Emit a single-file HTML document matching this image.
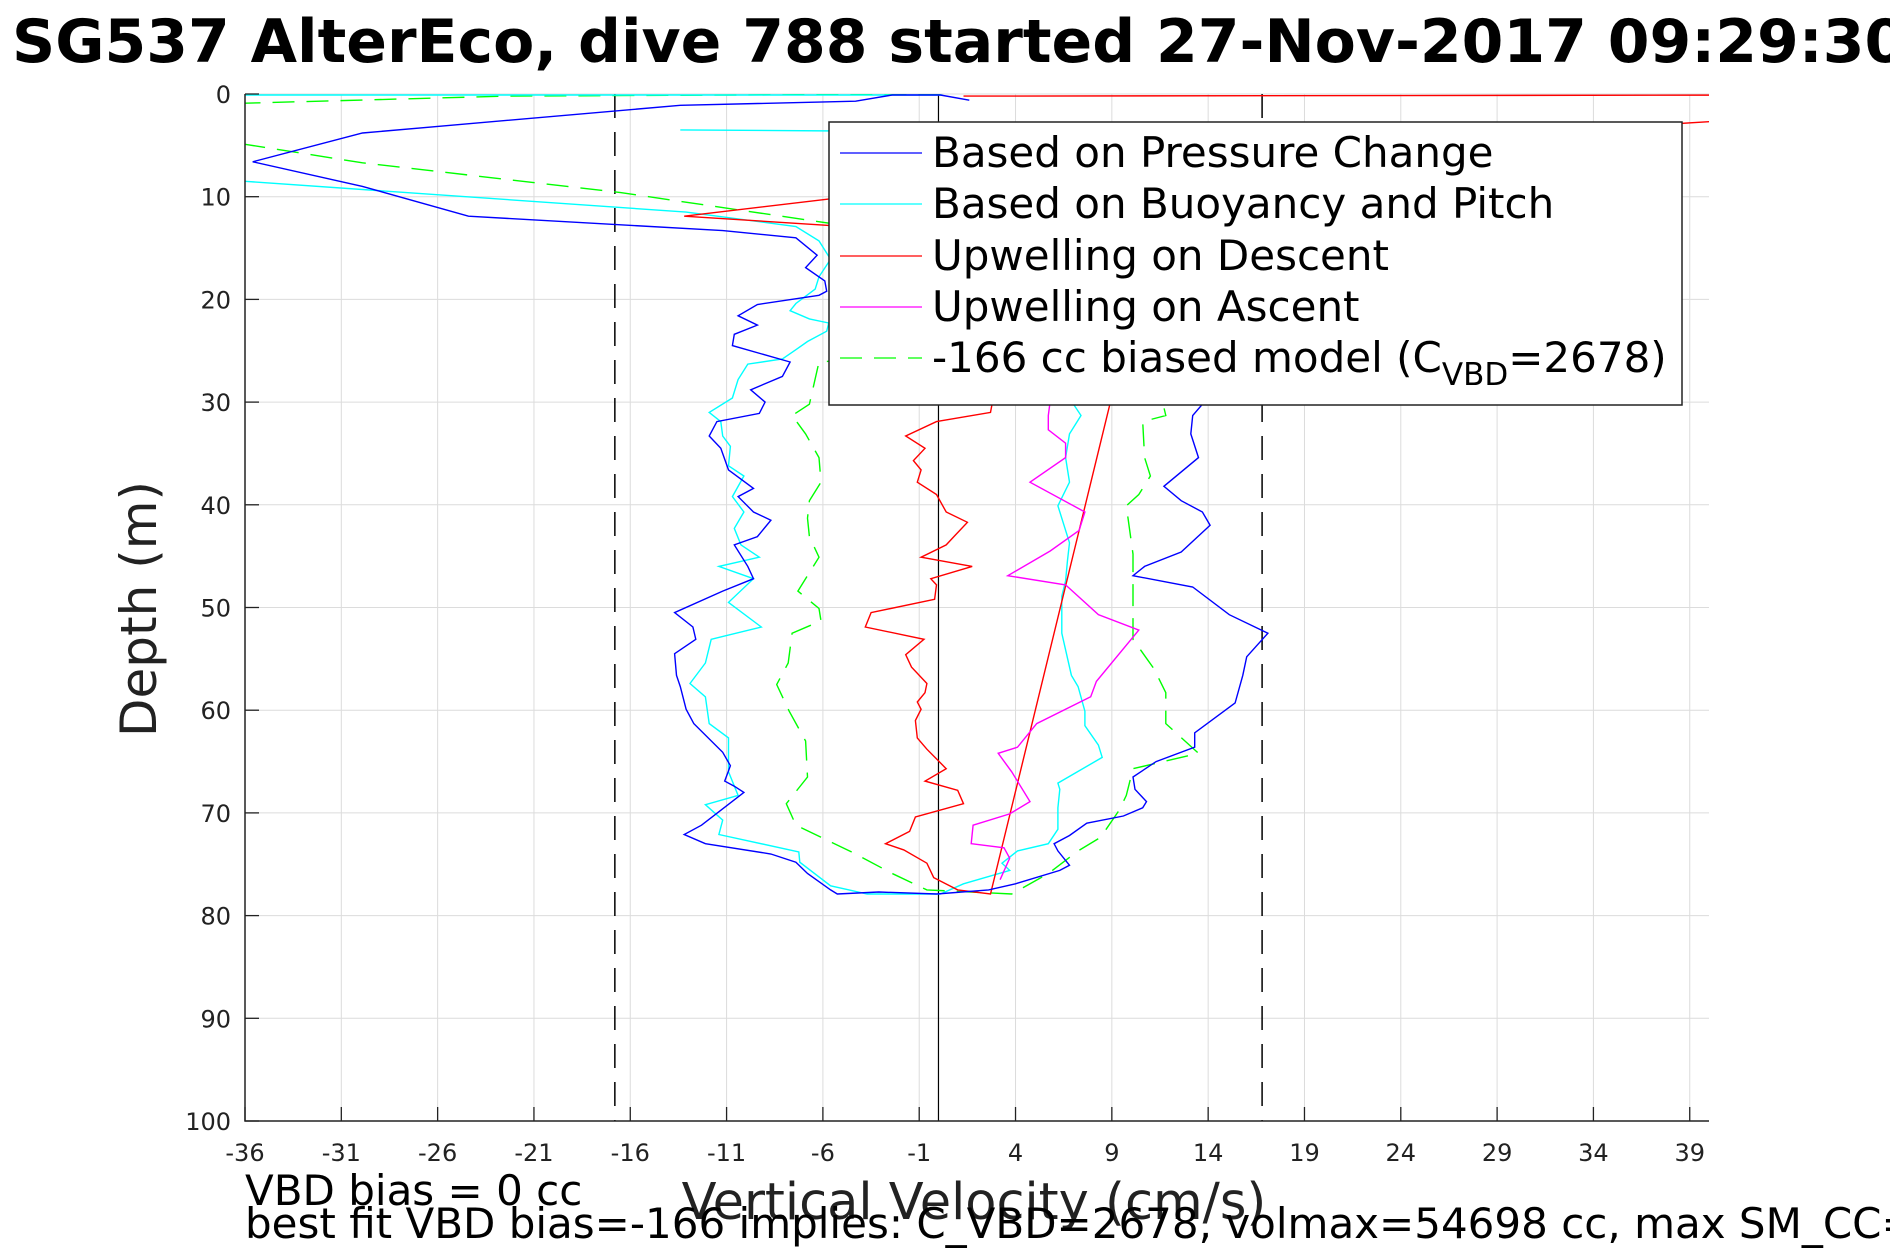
<!DOCTYPE html>
<html><head><meta charset="utf-8"><style>
html,body{margin:0;padding:0;background:#fff;width:1890px;height:1260px;overflow:hidden}
svg text{font-family:"DejaVu Sans","Liberation Sans",sans-serif}
</style></head><body>
<svg id="chart" width="1890" height="1260" viewBox="0 0 1890 1260" xmlns="http://www.w3.org/2000/svg">
<text x="12" y="62" font-size="60" font-weight="bold" fill="#000">SG537 AlterEco, dive 788 started 27-Nov-2017 09:29:30</text>
<defs><clipPath id="pc"><rect x="245" y="94" width="1464" height="1027"/></clipPath></defs>
<rect x="245" y="94" width="1464" height="1027" fill="#fff"/>
<g id="grid"></g>
<g id="series" clip-path="url(#pc)"></g>
<g id="axes"></g>
<g>
<rect x="829" y="122" width="853" height="283" fill="#fff" stroke="#222" stroke-width="1.5"/>
<g><line x1="840" y1="153" x2="922" y2="153" stroke="#0000ff" stroke-width="1.3"/><text x="932" y="167" font-size="42">Based on Pressure Change</text></g>
<g><line x1="840" y1="204" x2="922" y2="204" stroke="#00ffff" stroke-width="1.3"/><text x="932" y="218" font-size="42">Based on Buoyancy and Pitch</text></g>
<g><line x1="840" y1="256" x2="922" y2="256" stroke="#ff0000" stroke-width="1.3"/><text x="932" y="270" font-size="42">Upwelling on Descent</text></g>
<g><line x1="840" y1="307" x2="922" y2="307" stroke="#ff00ff" stroke-width="1.3"/><text x="932" y="321" font-size="42">Upwelling on Ascent</text></g>
<g><line x1="840" y1="358" x2="922" y2="358" stroke="#00ff00" stroke-width="1.3" stroke-dasharray="22,12"/><text x="932" y="372" font-size="42">-166 cc biased model (C<tspan font-size="31" dy="13">VBD</tspan><tspan dy="-13">=2678)</tspan></text></g>
</g>
<text transform="translate(156,609) rotate(-90)" text-anchor="middle" font-size="50" fill="#222">Depth (m)</text>
<text x="974" y="1219" text-anchor="middle" font-size="51" fill="#222">Vertical Velocity (cm/s)</text>
<text x="245" y="1205" font-size="42" fill="#000">VBD bias = 0 cc</text>
<text x="245" y="1238" font-size="42" fill="#000">best fit VBD bias=-166 implies: C_VBD=2678, volmax=54698 cc, max SM_CC=</text>
</svg>
<script>
const xTicks=[-36,-31,-26,-21,-16,-11,-6,-1,4,9,14,19,24,29,34,39];
const yTicks=[0,10,20,30,40,50,60,70,80,90,100];
const xDomain=[-36,40];
const yDomain=[0,100];
const refLines=[-16.8,16.8];
const pressureVel=[1.6,0.1,-2.4,-4.3,-13.4,-29.9,-35.6,-29.9,-24.4,-11.2,-7.4,-6.3,-6.9,-5.9,-5.8,-6.2,-9.4,-10.4,-9.4,-10.6,-10.7,-7.7,-8.1,-9.75,-9.0,-9.3,-11.5,-11.9,-11.3,-10.9,-9.6,-10.4,-9.6,-8.7,-9.4,-10.6,-9.9,-9.6,-11.2,-13.7,-12.75,-12.6,-13.7,-13.6,-13.4,-13.1,-12.7,-11.2,-10.8,-11.1,-10.6,-10.1,-11.2,-12.3,-13.2,-12.1,-8.7,-7.4,-6.8,-5.6,-5.25,-3.1,-0.1,2.6,4.0,6.3,6.8,6.2,6.0,6.8,7.7,9.6,10.6,10.8,10.2,10.1,11.3,13.3,13.3,15.4,15.8,16.0,17.1,15.1,13.2,10.1,10.7,12.6,14.1,13.7,12.6,11.7,13.5,13.1,13.2,13.7,15,12];
const pressureDepth=[0.6,0.1,0.1,0.7,1.1,3.8,6.6,9.0,11.9,13.3,14.0,15.7,16.9,18.2,19.2,19.6,20.5,21.6,22.5,23.4,24.5,26.1,27.5,28.8,30.0,31.1,31.9,33.3,34.5,36.6,38.4,39.2,40.7,41.5,43.1,43.9,46.0,47.2,48.4,50.5,51.9,53.1,54.5,56.6,57.7,59.9,61.3,64.1,65.4,66.9,67.4,68.0,69.6,71.2,72.1,73.0,74.0,74.8,75.9,77.5,77.9,77.7,77.9,77.5,76.9,75.6,75.1,73.7,73.0,72.2,71.0,70.3,69.5,68.9,67.7,66.5,65.0,63.6,62.2,59.3,56.6,54.8,52.5,50.7,48.0,46.9,46.0,44.6,42.0,40.7,39.6,38.2,35.4,33.1,31.3,30.2,25,18];
const buoyVel=[0.2,-37,-37,-36,-13.1,-7.4,-6.2,-5.6,-6.2,-6.4,-7.4,-7.7,-6.7,-5.7,-5.8,-6.8,-7.4,-8.1,-9.9,-10.4,-10.7,-11.9,-11.3,-11.2,-10.8,-10.9,-10.1,-10.7,-10.1,-10.6,-10.25,-9.3,-11.4,-9.6,-10.9,-9.2,-11.8,-12.1,-12.9,-12.1,-11.9,-10.9,-10.9,-10.4,-12.1,-11.2,-11.4,-7.25,-7.2,-5.6,-3.7,0.1,1.3,3.7,3.3,4.1,5.7,6.2,6.2,6.3,6.2,8.5,8.3,7.6,7.6,7.25,6.9,6.4,6.4,6.6,6.7,6.8,6.2,6.8,6.6,6.8,7.4,6.9,6,5];
const buoyDepth=[0.1,0.1,8.4,8.5,11.5,12.9,14.3,16.1,17.8,19.0,20.4,21.1,21.9,22.3,23.1,24.1,24.9,25.8,26.3,27.8,29.6,31.0,31.9,33.3,34.3,36.2,37.2,39.2,40.7,42.3,43.9,45.1,46.0,47.2,49.5,51.9,53.1,55.4,57.4,58.7,61.3,62.7,66.0,68.3,69.2,70.7,72.1,73.8,74.8,77.1,77.9,77.9,76.9,75.6,74.9,73.7,73.0,71.6,69.5,67.7,67.1,64.6,63.4,61.5,60.1,57.7,56.6,52.5,48.9,47.4,45.4,43.7,40.1,37.8,35.4,33.1,31.3,29.9,25,18];
const descentVel=[1.3,45,45,40,20,5,-5.6,-13.2,-5.6,0,3,2.7,-0.1,-1.7,-0.7,-1.3,-0.9,-1.1,-0.1,0.4,1.5,0.8,0.4,-0.9,1.75,-0.4,-0.1,-0.2,-3.5,-3.8,-0.75,-1.7,-1.4,-0.6,-0.7,-1.1,-0.9,-1.2,-1.1,-0.6,0.4,-0.7,1.0,1.3,-1.2,-1.5,-2.75,-1.8,-0.6,-0.25,1.0,2.7,8.9,11.0];
const descentDepth=[0.2,0.1,2.5,2.7,5,9,10.2,11.9,12.8,20,28,31.0,31.9,33.3,34.5,35.7,36.6,37.8,39.0,40.7,41.7,43.1,43.9,45.1,46.0,47.2,47.8,49.2,50.5,51.9,53.1,54.6,55.8,57.4,58.3,59.2,59.9,61.0,62.7,63.8,65.7,66.9,67.8,69.1,70.4,71.8,73.0,73.6,74.9,76.3,77.5,77.9,30.2,14];
const ascentVel=[6,5.7,5.7,6.6,6.6,4.75,7.6,7.3,5.8,3.6,6.6,8.3,10.4,8.2,7.9,5.1,4.1,3.1,3.8,4.75,3.7,1.8,1.7,3.4,3.7,3.2];
const ascentDepth=[27,31.3,32.7,34.0,35.4,37.8,40.7,42.5,44.5,46.9,47.8,50.7,52.2,57.2,58.7,61.3,63.6,64.2,66.0,68.9,70.1,71.2,73.0,73.4,74.4,76.5];
const modelVel=[0.1,-22.4,-36,-40,-40,-36,-29.9,-16.5,-5.6,-5.5,-6.2,-6.7,-7.6,-6.9,-6.2,-6.1,-6.7,-6.8,-6.7,-6.2,-7.3,-6.2,-6.1,-7.6,-7.8,-8.4,-7.75,-6.9,-6.8,-7.9,-7.4,-4.4,-2.4,-0.6,3.8,5.7,7.25,8.4,8.7,9.4,9.75,10.1,13.5,11.8,11.8,11.2,10.1,10.1,10.1,9.75,10.4,11.0,10.7,10.6,11.8,11];
const modelDepth=[0,0.2,0.9,1,4.5,4.9,6.7,9.6,12.6,26,26.1,30.2,31.3,33.1,35.4,37.8,39.6,41.3,43.1,45.1,48.4,50.1,51.3,52.5,55.4,57.5,60.1,63.0,66.5,69.1,71.2,73.9,75.9,77.5,77.9,75.9,73.7,72.4,71.6,69.7,68.3,65.7,64.2,61.3,58.3,56.0,53.1,48.4,44.8,40.1,39.0,37.2,35.4,31.9,31.3,25];
const shortVel=[-13.4,-5.0];
const shortDepth=[3.5,3.6];

const L=245,R=1709,T=94,B=1121;
const sx=v=>L+(v-xDomain[0])/(xDomain[1]-xDomain[0])*(R-L);
const sy=d=>T+(d-yDomain[0])/(yDomain[1]-yDomain[0])*(B-T);
const NS="http://www.w3.org/2000/svg";
function mk(tag,parent,attrs){const e=document.createElementNS(NS,tag);for(const k in attrs)e.setAttribute(k,attrs[k]);parent.appendChild(e);return e;}
const grid=document.getElementById('grid'),axes=document.getElementById('axes'),series=document.getElementById('series');
xTicks.forEach(t=>{
  const g=mk('line',grid,{x1:sx(t),x2:sx(t),y1:T,y2:B,stroke:'#dcdcdc','stroke-width':1});
  
  
  const tk=mk('line',axes,{x1:sx(t),x2:sx(t),y1:B,y2:B-14,stroke:'#222','stroke-width':1.3});
  
  
  const lb=mk('text',axes,{x:sx(t),y:1161,'text-anchor':'middle','font-size':24,fill:'#222'});
  
  
  lb.textContent=t;
});
yTicks.forEach(t=>{
  const g=mk('line',grid,{x1:L,x2:R,y1:sy(t),y2:sy(t),stroke:'#dcdcdc','stroke-width':1});
  
  
  const tk=mk('line',axes,{x1:L,x2:L+14,y1:sy(t),y2:sy(t),stroke:'#222','stroke-width':1.3});
  
  
  const lb=mk('text',axes,{x:231,y:sy(t)+9,'text-anchor':'end','font-size':24,fill:'#222'});
  
  
  lb.textContent=t;
});
const ax=mk('path',axes,{d:`M${L},${T}V${B}H${R}`,fill:'none',stroke:'#222','stroke-width':1.5});


refLines.forEach(v=>{
  const l=mk('line',series,{x1:sx(v),x2:sx(v),y1:T,y2:B,stroke:'#000','stroke-width':1.5,'stroke-dasharray':'24,14'});
  
  
});
const zl=mk('line',series,{x1:sx(0),x2:sx(0),y1:T,y2:B,stroke:'#000','stroke-width':1.2});


function poly(xs,ys,color,name,dash){
  const pts=xs.map((v,i)=>sx(v).toFixed(1)+','+sy(ys[i]).toFixed(1)).join(' ');
  const p=mk('polyline',series,{points:pts,fill:'none',stroke:color,'stroke-width':1.4});
  if(dash)p.setAttribute('stroke-dasharray',dash);
  
  
}
poly(modelVel,modelDepth,'#00ff00','model-line','22,12');
poly(shortVel,shortDepth,'#00ffff','buoyancy-surface-segment');
poly(buoyVel,buoyDepth,'#00ffff','buoyancy-pitch-line');
poly(descentVel,descentDepth,'#ff0000','descent-upwelling-line');
poly(ascentVel,ascentDepth,'#ff00ff','ascent-upwelling-line');
poly(pressureVel,pressureDepth,'#0000ff','pressure-change-line');
</script>
</body></html>
